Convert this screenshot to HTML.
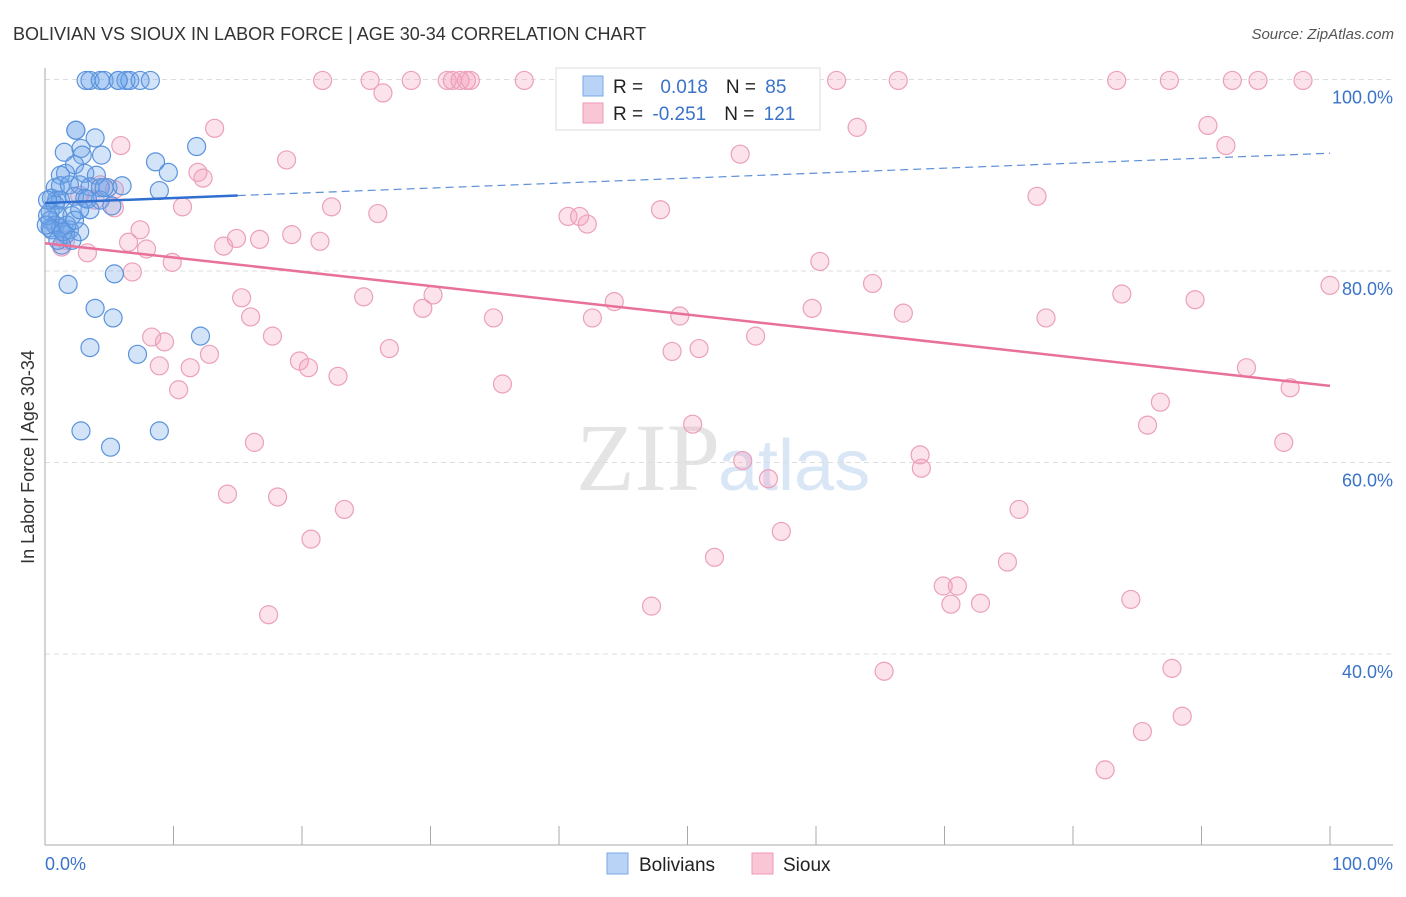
<!DOCTYPE html>
<html><head><meta charset="utf-8"><style>
body{margin:0;background:#fff;font-family:"Liberation Sans",sans-serif}
</style></head><body>
<svg id="c" width="1406" height="892" xmlns="http://www.w3.org/2000/svg">
<text x="13" y="40" font-size="18" fill="#333">BOLIVIAN VS SIOUX IN LABOR FORCE | AGE 30-34 CORRELATION CHART</text>
<text x="1394" y="39" font-size="15" fill="#555" text-anchor="end" font-style="italic">Source: ZipAtlas.com</text>
<text x="34" y="457" font-size="18" fill="#333" text-anchor="middle" transform="rotate(-90 34 457)">In Labor Force | Age 30-34</text>
<text x="720" y="490" font-size="96" fill="#e4e4e4" text-anchor="end" font-family="Liberation Serif">ZIP</text>
<text x="718" y="490" font-size="72" fill="#d9e6f6">atlas</text>
<g id="grid"></g><g id="pts"></g><g id="trend"></g>
<g>
<rect x="556" y="68" width="264" height="62" fill="#fff" stroke="#ddd"/>
<rect x="583" y="76" width="20" height="20" fill="#b8d3f5" stroke="#7aa8e6"/>
<rect x="583" y="103" width="20" height="20" fill="#f9c6d6" stroke="#ee9ab7"/>
<text x="613" y="93" font-size="19" fill="#222">R = <tspan fill="#3a73c9" dx="12">0.018</tspan><tspan dx="18" fill="#222">N = </tspan><tspan fill="#3a73c9" dx="4">85</tspan></text>
<text x="613" y="120" font-size="19" fill="#222">R = <tspan fill="#3a73c9" dx="4">-0.251</tspan><tspan dx="18" fill="#222">N = </tspan><tspan fill="#3a73c9" dx="4">121</tspan></text>
</g>
<g>
<rect x="607" y="853" width="21" height="21" fill="#b8d3f5" stroke="#7aa8e6"/>
<text x="639" y="871" font-size="19" fill="#222">Bolivians</text>
<rect x="752" y="853" width="21" height="21" fill="#f9c6d6" stroke="#ee9ab7"/>
<text x="783" y="871" font-size="19" fill="#222">Sioux</text>
</g>
</svg>
<script>
const yTicks=[100,80,60,40];
const yTickLabels=["100.0%","80.0%","60.0%","40.0%"];
const xTicks=[0,10,20,30,40,50,60,70,80,90,100];
const blueX=[3.2,3.5,4.3,4.6,5.7,6.3,6.6,7.4,8.2,5.7,2.4,2.4,3.9,1.5,2.8,2.9,4.4,8.6,9.6,11.8,1.6,2.3,3.1,4.0,1.2,0.8,1.2,1.9,2.7,3.5,4.3,4.9,6.0,8.9,0.5,0.9,1.2,2.3,3.1,4.3,5.2,0.8,0.4,1.0,2.1,3.5,0.4,0.8,1.2,1.9,2.7,1.6,1.3,0.4,0.2,1.8,3.9,5.3,5.4,3.5,7.2,12.1,2.8,5.1,8.9,1.7,2.3,0.5,1.0,1.4,2.1,2.7,0.2,0.1,3.3,4.6];
const blueY=[99.9,99.9,99.9,99.9,99.9,99.9,99.9,99.9,99.9,99.9,94.7,94.7,93.9,92.4,92.8,92.1,92.1,91.4,90.3,93.0,90.2,91.1,90.2,90.0,90.0,88.7,88.9,89.0,89.0,88.8,88.7,88.7,88.9,88.4,87.6,87.4,87.4,87.8,87.6,87.4,86.8,86.9,86.2,85.8,85.8,86.4,85.3,84.8,84.5,84.3,84.1,83.8,82.7,84.5,85.8,78.6,76.1,75.1,79.7,72.0,71.3,73.2,63.3,61.6,63.3,84.8,85.3,84.3,83.2,84.1,83.2,86.4,87.4,84.8,87.5,88.7];
const pinkX=[21.6,25.3,28.5,31.3,31.7,32.3,32.8,33.1,37.3,46.5,55.6,61.6,66.4,83.4,87.5,92.4,94.4,97.9,26.3,13.2,5.9,18.8,11.9,12.3,5.4,10.7,22.3,25.9,40.7,41.6,42.2,47.9,63.2,54.1,90.5,91.9,77.2,7.4,6.5,7.9,14.9,16.7,19.2,21.4,13.9,9.9,6.8,1.3,3.3,60.3,64.4,100,83.8,89.5,24.8,30.2,15.3,16.0,29.4,34.9,42.6,44.3,49.4,59.7,66.8,77.9,17.7,8.3,9.3,12.8,11.3,8.9,19.8,20.5,22.8,26.8,48.8,50.9,55.3,10.4,35.6,93.5,96.9,86.8,50.4,85.8,16.3,96.4,68.1,68.2,54.3,56.3,14.2,18.1,23.3,75.8,20.7,57.3,52.1,74.9,69.9,71.0,70.5,72.8,84.5,47.2,17.4,65.3,87.7,88.5,85.4,82.5,4.3,2.7,1.6,0.8,3.9,5.4];
const pinkY=[99.9,99.9,99.9,99.9,99.9,99.9,99.9,99.9,99.9,99.9,99.9,99.9,99.9,99.9,99.9,99.9,99.9,99.9,98.6,94.9,93.1,91.6,90.3,89.7,86.6,86.7,86.7,86.0,85.7,85.7,84.9,86.4,95.0,92.2,95.2,93.1,87.8,84.3,83.0,82.3,83.4,83.3,83.8,83.1,82.6,80.9,79.9,82.5,81.9,81.0,78.7,78.5,77.6,77.0,77.3,77.5,77.2,75.2,76.1,75.1,75.1,76.8,75.3,76.1,75.6,75.1,73.2,73.1,72.6,71.3,69.9,70.1,70.6,69.9,69.0,71.9,71.6,71.9,73.2,67.6,68.2,69.9,67.8,66.3,64.0,63.9,62.1,62.1,60.8,59.4,60.2,58.3,56.7,56.4,55.1,55.1,52.0,52.8,50.1,49.6,47.1,47.1,45.2,45.3,45.7,45.0,44.1,38.2,38.5,33.5,31.9,27.9,89.0,87.9,83.2,84.8,87.4,88.5];
const blueTrend=[87.1,92.3];const blueSolidEnd=15;
const pinkTrend=[82.9,68.0];
const NS="http://www.w3.org/2000/svg";
const X=v=>45+v*12.85, Y=v=>79.5+(100-v)*9.575;
function mk(t,a,p){const e=document.createElementNS(NS,t);for(const k in a)e.setAttribute(k,a[k]);p.appendChild(e);return e;}
const g=document.getElementById('grid');
yTicks.forEach((t,i)=>{const l=mk('line',{x1:45,x2:1393,y1:Y(t),y2:Y(t),stroke:'#ddd','stroke-dasharray':'5,4'},g);


const tx=mk('text',{x:1393,y:Y(t)+24,'font-size':18,fill:'#3a73c9','text-anchor':'end'},g);tx.textContent=yTickLabels[i];

});
const ax=mk('line',{x1:45,x2:45,y1:68,y2:845,stroke:'#aaa'},g);


const bx=mk('line',{x1:45,x2:1393,y1:845,y2:845,stroke:'#aaa'},g);


xTicks.forEach(t=>{const l=mk('line',{x1:X(t),x2:X(t),y1:826,y2:845,stroke:'#aaa'},g);

});
[["0.0%",45,'start'],["100.0%",1393,'end']].forEach(a=>{const t=mk('text',{x:a[1],y:870,'font-size':18,fill:'#3a73c9','text-anchor':a[2]},g);t.textContent=a[0];

});
const p=document.getElementById('pts');
pinkX.forEach((x,i)=>{const c=mk('circle',{cx:X(x),cy:Y(pinkY[i]),r:9,fill:'rgba(244,160,190,0.3)',stroke:'#eba0bb','stroke-width':1.2},p);

});
blueX.forEach((x,i)=>{const c=mk('circle',{cx:X(x),cy:Y(blueY[i]),r:9,fill:'rgba(110,165,235,0.3)',stroke:'#5b93dc','stroke-width':1.2},p);

});
const tr=document.getElementById('trend');
const by=v=>blueTrend[0]+(blueTrend[1]-blueTrend[0])*v/100;
let l1=mk('line',{x1:X(0),y1:Y(by(0)),x2:X(blueSolidEnd),y2:Y(by(blueSolidEnd)),stroke:'#2f6fd0','stroke-width':2.5},tr);


let l2=mk('line',{x1:X(blueSolidEnd),y1:Y(by(blueSolidEnd)),x2:X(100),y2:Y(by(100)),stroke:'#5b8fd8','stroke-width':1.2,'stroke-dasharray':'8,5'},tr);


let l3=mk('line',{x1:X(0),y1:Y(pinkTrend[0]),x2:X(100),y2:Y(pinkTrend[1]),stroke:'#e8709a','stroke-width':2.5},tr);


</script>
</body></html>
